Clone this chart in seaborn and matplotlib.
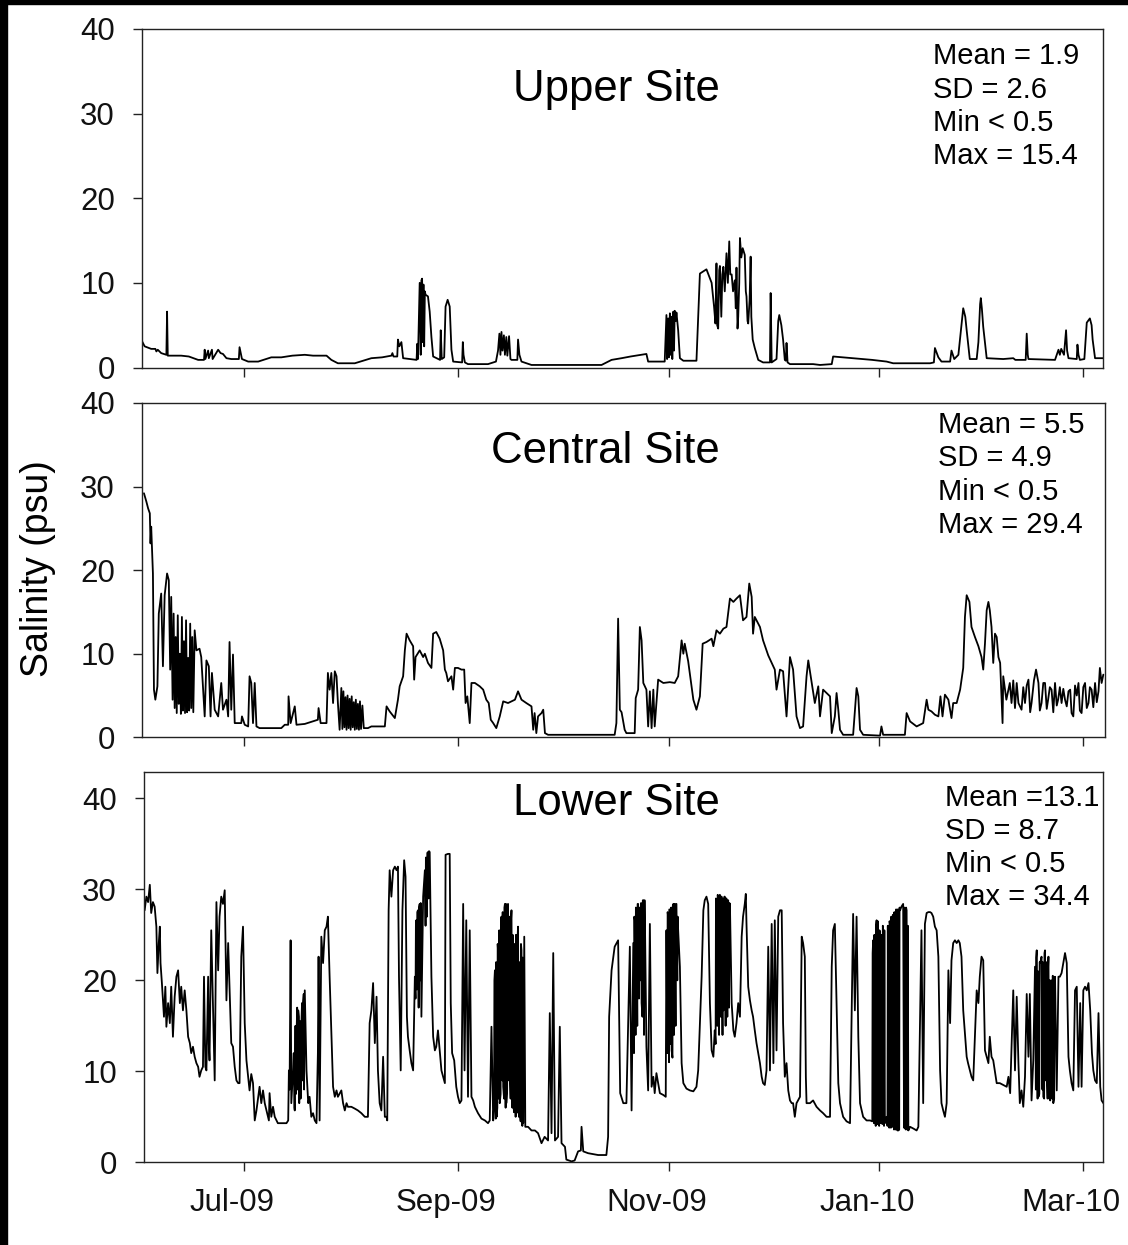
import pandas as pd
import seaborn as sns
import matplotlib.pyplot as plt
from matplotlib.patches import Rectangle
from matplotlib.transforms import ScaledTranslation

# ---- data (days since 1 Jun 2009, salinity in psu) ----
upper_day = [
    0.2, 1.2, 3.1, 4.3, 4.6, 5.0, 6.0, 7.5, 7.7, 7.9, 11.8, 14.0, 16.7, 18.4, 18.6, 18.8,
    19.6, 19.8, 20.7, 20.9, 22.5, 23.2, 23.9, 24.9, 26.3, 28.5, 28.7, 29.4, 31.2, 34.1,
    37.9, 40.8, 44.0, 47.6, 50.0, 53.9, 55.3, 57.2, 62.1, 66.9, 70.0, 72.7, 73.0, 73.3,
    74.4, 74.6, 75.0, 75.6, 76.1, 80.0, 80.2, 80.4, 80.9, 81.2, 81.4, 81.6, 81.8, 82.0,
    82.2, 82.4, 82.6, 83.3, 83.8, 84.3, 84.8, 86.8, 87.0, 87.3, 88.0, 88.4, 89.0, 89.6,
    90.1, 90.6, 93.2, 93.4, 93.6, 94.0, 94.9, 100.7, 103.0, 103.6, 104.0, 104.3, 104.6,
    104.9, 105.3, 105.6, 106.0, 106.3, 106.8, 107.2, 107.5, 109.2, 109.4, 109.8, 110.4,
    113.3, 133.6, 136.5, 139.4, 142.0, 146.6, 147.1, 151.9, 152.4, 152.6, 152.9, 153.1,
    153.4, 153.6, 153.9, 154.1, 154.4, 154.6, 154.8, 155.1, 155.3, 155.8, 156.3, 157.3,
    161.1, 162.1, 164.0, 165.5, 166.2, 166.6, 166.9, 167.1, 167.4, 167.7, 167.9, 168.3,
    168.6, 168.9, 169.3, 169.8, 170.2, 170.6, 170.9, 171.3, 171.7, 172.2, 172.5, 172.7,
    173.0, 173.2, 173.5, 173.7, 174.1, 174.5, 175.1, 175.4, 175.6, 175.9, 176.1, 176.5,
    176.8, 177.0, 177.4, 178.0, 179.0, 180.4, 181.9, 182.4, 182.6, 182.9, 184.3, 184.8,
    185.1, 185.7, 186.2, 186.7, 187.0, 187.2, 187.5, 188.2, 194.9, 196.9, 200.3, 200.7,
    206.5, 212.0, 216.2, 218.1, 228.8, 229.9, 230.2, 231.2, 232.1, 234.6, 235.0, 235.8,
    237.0, 238.0, 238.4, 239.0, 239.4, 240.3, 242.3, 242.8, 243.3, 243.5, 243.8, 244.2,
    245.2, 250.0, 252.9, 253.5, 256.5, 256.8, 257.1, 257.3, 265.0, 266.0, 266.4, 266.8,
    267.6, 268.2, 268.5, 268.9, 271.3, 271.5, 271.8, 272.2, 273.5, 274.2, 275.1, 275.6,
    275.9, 276.6, 278.9,
]
upper_sal = [
    3.3, 2.5, 2.2, 2.2, 1.9, 2.1, 1.7, 1.5, 6.6, 1.4, 1.4, 1.3, 0.9, 0.9, 2.1, 1.0,
    2.0, 1.1, 2.1, 1.0, 2.1, 1.7, 1.6, 1.1, 1.0, 1.0, 2.4, 1.0, 0.7, 0.7,
    1.2, 1.2, 1.4, 1.5, 1.4, 1.4, 0.9, 0.5, 0.5, 1.1, 1.2, 1.4, 1.7, 1.3,
    1.3, 3.3, 2.5, 3.0, 1.1, 0.9, 2.8, 1.0, 10.0, 1.5, 10.3, 10.5, 3.0, 9.8,
    2.5, 9.0, 8.6, 8.4, 6.6, 3.6, 1.3, 0.9, 4.4, 1.0, 1.2, 7.2, 8.0, 7.2,
    2.1, 0.7, 0.6, 3.0, 1.5, 0.6, 0.4, 0.4, 0.7, 2.0, 4.0, 1.5, 4.2,
    2.0, 3.8, 1.5, 3.6, 1.4, 3.7, 1.0, 0.9, 0.9, 3.3, 1.5, 0.7,
    0.3, 0.3, 0.9, 1.1, 1.3, 1.6, 0.7, 0.7, 6.2, 1.0, 5.8, 1.2,
    6.4, 1.5, 6.0, 1.0, 6.6, 2.0, 6.7, 5.5, 6.5, 4.4, 1.1, 0.8,
    0.8, 11.1, 11.6, 10.0, 7.2, 5.2, 12.3, 5.0, 4.6, 11.5, 12.0, 6.0,
    11.0, 11.9, 9.0, 13.5, 10.0, 14.9, 11.0, 11.0, 9.0, 10.3, 7.0, 11.8,
    4.6, 6.0, 10.0, 15.3, 13.0, 14.1, 13.3, 9.0, 8.4, 5.5, 5.2, 8.0,
    13.1, 6.0, 3.3, 2.3, 0.9, 0.6, 0.6, 0.6, 8.8, 0.6, 1.0, 5.5,
    6.2, 5.0, 3.3, 0.9, 0.8, 2.9, 0.6, 0.4, 0.4, 0.3, 0.4, 1.3,
    1.1, 0.9, 0.7, 0.5, 0.5, 0.6, 2.3, 1.2, 0.7, 0.7, 2.0, 1.0,
    1.5, 5.5, 7.0, 6.0, 4.4, 1.0, 1.0, 3.0, 7.5, 8.2, 7.0, 4.8,
    1.1, 1.0, 1.1, 0.9, 0.9, 4.0, 1.5, 1.0, 0.9, 2.1, 1.5, 2.2,
    1.5, 4.4, 2.0, 1.1, 1.0, 2.7, 1.5, 0.9, 1.0, 5.3, 5.8, 5.0,
    3.3, 1.1, 1.1,
]

central_day = [
    1.0, 1.7, 2.2, 2.7, 2.9, 3.1, 3.6, 3.9, 4.3, 4.9, 5.3, 6.0, 6.5, 7.0, 7.7, 8.2,
    8.6, 8.9, 9.3, 9.6, 9.9, 10.2, 10.5, 10.8, 11.1, 11.4, 11.7, 12.0, 12.3, 12.6,
    12.9, 13.2, 13.5, 13.8, 14.1, 14.4, 14.7, 15.0, 15.3, 15.7, 16.2, 17.1, 17.6,
    18.6, 19.1, 19.8, 20.3, 20.7, 21.5, 22.5, 23.4, 23.9, 24.9, 25.4, 25.8, 26.3,
    26.8, 27.3, 29.2, 29.4, 30.2, 31.2, 31.6, 32.1, 32.6, 33.1, 33.6, 34.5, 40.8,
    41.8, 42.8, 42.9, 43.5, 44.7, 45.2, 47.6, 51.4, 51.6, 52.2, 53.9, 54.3, 54.8,
    55.3, 55.8, 56.3, 56.8, 57.2, 57.7, 58.2, 58.5, 58.8, 59.1, 59.4, 59.7, 60.0,
    60.3, 60.6, 60.9, 61.2, 61.5, 61.8, 62.1, 62.4, 62.7, 63.0, 63.3, 63.6, 63.9,
    64.3, 64.7, 65.9, 66.9, 70.8, 71.3, 72.2, 73.7, 74.6, 75.1, 76.1, 76.6, 77.1,
    78.0, 79.0, 79.3, 79.7, 80.9, 81.9, 82.4, 83.3, 84.3, 84.8, 85.7, 86.7, 87.7,
    88.2, 88.6, 89.1, 90.1, 90.6, 91.1, 92.0, 93.0, 93.8, 94.2, 94.7, 95.4, 95.9,
    96.9, 98.3, 99.3, 100.2, 100.9, 101.5, 102.2, 103.1, 104.1, 105.1, 106.5, 108.5,
    109.4, 110.4, 111.8, 113.3, 113.8, 114.2, 114.7, 115.2, 116.2, 116.7, 117.2,
    118.1, 137.4, 137.9, 138.4, 138.9, 139.4, 140.3, 140.8, 143.2, 143.5, 144.2,
    144.7, 145.2, 145.7, 146.6, 147.1, 147.6, 148.1, 148.6, 149.0, 150.0, 151.5,
    153.4, 154.8, 155.8, 156.8, 157.3, 157.7, 158.7, 160.2, 161.1, 162.1, 162.9,
    164.0, 165.5, 166.0, 166.9, 167.9, 168.9, 169.8, 170.8, 171.8, 172.7, 173.7,
    174.6, 175.6, 176.4, 177.1, 177.5, 178.0, 179.5, 180.4, 181.9, 182.9, 183.8,
    184.3, 185.3, 186.2, 187.2, 188.2, 189.1, 190.1, 191.1, 192.0, 193.0, 193.5,
    194.5, 195.4, 196.4, 196.9, 197.8, 198.8, 199.8, 200.3, 201.2, 201.7, 202.2,
    202.7, 203.6, 206.5, 207.5, 208.0, 208.5, 209.4, 214.3, 214.7, 215.2, 221.5,
    222.0, 223.0, 224.9, 226.8, 227.8, 228.3, 229.2, 230.2, 231.2, 231.8, 232.4,
    233.1, 234.1, 235.0, 235.5, 236.5, 237.5, 238.4, 238.9, 239.4, 240.2, 240.8,
    241.8, 242.8, 243.7, 244.2, 244.7, 245.2, 245.7, 246.1, 246.6, 247.1, 247.6,
    248.1, 248.6, 249.1, 249.8, 250.0, 250.9, 251.9, 252.4, 252.9, 253.4, 253.9,
    254.4, 255.3, 255.8, 256.3, 256.8, 257.3, 257.8, 258.2, 258.9, 259.5, 260.2,
    260.6, 261.1, 261.6, 262.1, 262.6, 263.0, 263.5, 264.0, 264.5, 265.0, 265.5,
    265.9, 266.4, 266.9, 267.4, 267.9, 268.4, 268.9, 269.4, 269.8, 270.3, 270.8,
    271.3, 271.8, 272.2, 272.7, 273.2, 273.7, 274.2, 274.7, 275.1, 275.6, 276.1,
    276.6, 277.1, 277.6, 278.0, 278.5, 279.0,
]
central_sal = [
    29.2, 28.2, 27.4, 26.8, 23.2, 25.2, 19.6, 5.7, 4.5, 6.1, 14.8, 17.2, 8.5, 17.0, 19.6, 18.8,
    8.1, 16.8, 4.5, 14.8, 3.5, 12.0, 2.9, 14.6, 4.0, 10.0, 2.8, 14.4, 3.2, 11.5,
    2.9, 14.0, 3.0, 9.5, 3.2, 13.6, 3.5, 12.0, 3.0, 12.8, 10.4, 10.6, 9.6,
    2.5, 9.2, 8.5, 2.5, 7.7, 3.3, 2.5, 6.5, 3.3, 4.5, 2.5, 11.4, 3.3,
    9.9, 1.7, 1.7, 2.5, 1.5, 1.3, 7.3, 6.5, 1.7, 6.5, 1.3, 1.1, 1.1,
    1.5, 1.5, 4.9, 1.7, 3.7, 1.5, 1.6, 2.1, 3.5, 1.7, 1.7, 7.7, 5.7,
    7.7, 4.1, 7.9, 7.3, 4.1, 0.9, 5.9, 1.0, 5.5, 1.2, 4.8, 0.9, 5.0,
    1.1, 4.6, 0.9, 4.9, 1.2, 4.2, 0.9, 4.5, 1.0, 4.0, 0.9, 4.3, 1.0,
    3.8, 1.1, 1.1, 1.3, 1.3, 3.7, 3.1, 2.3, 4.5, 6.1, 7.3, 10.4, 12.4,
    11.6, 10.9, 6.9, 9.6, 10.4, 9.6, 10.0, 8.9, 8.3, 12.4, 12.6, 11.8, 10.4,
    8.1, 7.7, 6.7, 7.3, 5.7, 8.3, 8.3, 8.1, 8.1, 4.1, 4.9, 1.7, 6.5,
    6.5, 6.1, 5.7, 4.5, 4.1, 2.1, 1.7, 1.1, 2.5, 4.3, 4.1, 4.5,
    5.5, 4.5, 4.1, 3.7, 0.9, 2.9, 0.5, 2.5, 2.9, 3.3, 0.5,
    0.3, 0.3, 1.7, 14.2, 3.3, 3.0, 0.9, 0.5, 0.5, 4.7, 5.7,
    13.2, 11.6, 6.5, 5.7, 1.3, 5.5, 1.1, 5.7, 1.3, 6.9, 6.5,
    6.6, 6.5, 7.3, 11.6, 10.0, 11.2, 9.1, 4.5, 3.3, 4.9, 11.2,
    11.4, 11.8, 10.9, 12.8, 12.4, 13.0, 13.2, 16.6, 16.2, 16.6, 17.0,
    14.0, 14.4, 18.4, 16.8, 12.4, 14.4, 13.2, 11.6, 9.8, 8.9, 8.1,
    5.7, 8.1, 7.9, 2.5, 9.6, 8.1, 2.5, 1.1, 1.3, 7.3, 9.2,
    6.5, 4.1, 6.1, 2.5, 5.7, 5.3, 4.9, 0.5, 2.5, 5.3, 3.3,
    0.9, 0.3, 0.3, 5.9, 4.9, 0.9, 0.3, 0.2, 1.3, 0.3, 0.3,
    2.9, 1.9, 1.3, 1.7, 4.5, 3.3, 3.1, 2.7, 2.5, 4.9, 2.5,
    5.1, 4.5, 2.3, 4.1, 4.1, 5.7, 8.3, 14.4, 17.0, 16.2, 13.2,
    12.0, 10.9, 9.6, 8.1, 11.2, 15.2, 16.2, 15.2, 13.2, 8.9, 12.4,
    12.0, 9.6, 8.9, 1.7, 7.3, 4.5, 6.5, 4.1, 6.8, 3.5, 6.5,
    4.1, 3.3, 6.0, 4.1, 6.2, 6.9, 3.0, 4.1, 6.8, 8.1, 6.5,
    3.2, 4.1, 6.5, 6.5, 3.4, 4.5, 6.0, 5.7, 3.0, 6.5, 3.8,
    4.5, 6.0, 4.1, 5.8, 4.5, 3.7, 5.5, 5.7, 2.9, 2.5, 6.2,
    5.0, 6.5, 3.2, 2.9, 6.0, 6.5, 3.5, 4.1, 6.0, 5.7, 3.6,
    6.5, 4.2, 5.5, 8.3, 6.5, 7.5,
]

lower_day = [
    1.2, 1.7, 2.2, 2.7, 3.1, 3.6, 4.1, 4.6, 4.9, 5.3, 5.6, 5.8, 6.2, 6.8, 7.2, 7.5,
    8.0, 8.5, 8.9, 9.4, 9.9, 10.4, 10.9, 11.4, 11.8, 12.3, 12.8, 13.3, 13.8, 14.3,
    14.7, 15.2, 15.7, 16.2, 16.7, 17.1, 17.6, 18.1, 18.4, 18.8, 19.1, 19.6, 19.8,
    20.0, 20.5, 21.0, 21.5, 22.0, 22.5, 22.9, 23.4, 23.9, 24.4, 24.9, 25.4, 25.8,
    26.3, 26.8, 27.3, 27.8, 28.3, 28.7, 29.2, 29.7, 30.2, 30.7, 31.2, 31.6, 32.1,
    32.6, 33.1, 33.6, 34.5, 35.0, 35.5, 36.0, 36.5, 37.2, 37.4, 37.9, 38.4, 38.9,
    39.8, 42.3, 42.8, 43.0, 43.2, 43.5, 43.7, 44.2, 44.7, 45.2, 45.7, 46.1, 46.6,
    47.1, 47.6, 48.1, 48.6, 49.0, 49.5, 50.0, 50.5, 51.0, 51.4, 51.6, 51.9, 52.4,
    52.9, 53.4, 53.9, 54.3, 54.8, 55.3, 55.8, 56.3, 56.8, 57.2, 58.2, 58.7, 59.2,
    59.7, 60.1, 61.1, 62.1, 63.0, 64.0, 65.0, 65.9, 66.4, 66.9, 67.4, 67.9, 68.4,
    68.8, 69.3, 69.8, 70.3, 70.8, 71.3, 71.5, 71.9, 72.2, 72.7, 73.2, 73.7, 74.2,
    74.6, 74.9, 75.4, 75.9, 76.4, 76.8, 77.2, 77.5, 78.0, 78.5, 79.0, 79.5, 79.9,
    80.4, 80.9, 81.4, 81.9, 82.4, 82.8, 83.3, 83.8, 84.3, 84.8, 85.3, 85.7, 86.2,
    86.7, 87.2, 87.7, 88.2, 88.4, 89.1, 89.6, 89.9, 90.3, 90.9, 91.5, 92.0, 92.5,
    93.0, 93.5, 93.9, 94.4, 94.9, 95.4, 95.9, 96.4, 96.9, 97.8, 98.8, 99.8, 100.7,
    101.2, 101.7, 102.2, 102.7, 103.2, 103.6, 104.1, 104.6, 105.1, 105.6, 106.0,
    106.5, 107.0, 107.5, 108.0, 108.5, 108.9, 109.4, 109.9, 110.4, 110.9, 111.2,
    111.5, 112.3, 113.3, 114.3, 115.2, 116.2, 117.1, 118.1, 118.6, 119.1, 119.6,
    120.1, 121.0, 121.5, 122.0, 123.0, 123.4, 124.9, 125.8, 126.8, 127.6, 127.8,
    128.3, 129.7, 132.6, 135.0, 135.5, 135.8, 136.5, 137.4, 138.4, 139.0, 139.9,
    140.8, 141.8, 142.3, 142.8, 143.2, 143.7, 144.2, 144.7, 145.2, 145.7, 146.1,
    146.6, 147.1, 147.6, 148.1, 148.6, 149.0, 149.5, 150.5, 151.5, 152.2, 152.4,
    152.9, 153.4, 153.9, 154.4, 154.8, 155.3, 155.8, 156.3, 156.8, 157.3, 158.2,
    159.2, 160.2, 161.1, 161.6, 162.1, 162.6, 163.1, 163.5, 164.0, 164.5, 165.0,
    165.5, 166.0, 166.4, 166.9, 167.4, 167.9, 168.4, 168.9, 169.3, 169.8, 170.3,
    170.8, 171.3, 171.8, 172.2, 172.7, 173.2, 173.7, 174.2, 174.6, 175.1, 175.4,
    175.6, 176.1, 176.6, 177.1, 177.5, 178.0, 178.5, 179.0, 179.5, 180.0, 180.4,
    180.9, 181.4, 181.9, 182.4, 182.9, 183.4, 183.8, 184.3, 184.8, 185.3, 185.8,
    186.2, 186.7, 187.2, 187.7, 188.2, 188.7, 189.1, 189.6, 190.1, 191.1, 191.6,
    192.0, 192.5, 192.8, 193.0, 194.0, 194.9, 195.9, 196.9, 197.8, 198.8, 199.8,
    200.3, 200.7, 201.2, 201.7, 202.2, 202.7, 203.6, 204.6, 205.6, 206.5, 207.0,
    207.5, 208.0, 208.5, 209.4, 210.4, 211.4, 212.3, 212.8, 213.3, 213.8, 214.3,
    214.8, 215.2, 215.7, 216.2, 216.7, 217.2, 217.7, 218.1, 218.6, 219.1, 219.6,
    220.1, 220.5, 221.0, 221.5, 222.0, 222.5, 223.0, 224.0, 224.9, 225.4, 225.9,
    226.3, 226.8, 227.3, 227.8, 228.3, 228.8, 229.2, 229.7, 230.2, 230.7, 231.2,
    231.7, 232.1, 232.6, 233.1, 233.6, 234.1, 234.6, 235.0, 235.5, 236.0, 236.5,
    237.0, 237.4, 237.9, 238.4, 239.4, 239.8, 240.8, 241.3, 241.8, 242.3, 242.8,
    243.2, 243.7, 244.2, 244.7, 245.2, 245.7, 246.1, 246.6, 247.1, 248.1, 249.0,
    250.0, 251.0, 251.5, 252.0, 252.9, 253.4, 253.9, 254.4, 254.8, 255.3, 255.8,
    256.3, 256.8, 257.3, 257.7, 258.2, 258.7, 259.2, 259.7, 260.2, 260.7, 261.1,
    261.6, 262.1, 262.6, 263.1, 263.6, 264.0, 264.5, 265.0, 265.5, 266.0, 266.4,
    266.9, 267.4, 267.9, 268.4, 268.9, 269.3, 269.8, 270.3, 270.8, 271.3, 271.8,
    272.3, 272.7, 273.2, 273.7, 274.2, 274.7, 275.2, 275.7, 276.1, 276.6, 277.1,
    277.6, 278.1, 278.5, 279.0,
]
lower_sal = [
    27.7, 29.2, 28.6, 30.5, 27.4, 28.6, 28.1, 25.9, 20.8, 24.1, 25.9, 21.9, 19.7, 16.0, 19.3, 14.9,
    17.5, 15.3, 19.3, 13.8, 18.2, 20.4, 21.1, 17.5, 19.3, 16.7, 18.9, 16.7, 13.8, 13.1,
    12.0, 12.7, 11.6, 10.9, 10.5, 9.4, 10.1, 10.5, 20.4, 10.5, 10.1, 20.4, 13.0,
    11.2, 25.5, 17.5, 9.0, 28.6, 21.1, 27.0, 29.2, 28.4, 29.9, 17.8, 24.1, 19.3,
    13.1, 12.7, 10.5, 9.0, 8.7, 8.7, 22.6, 25.9, 15.3, 11.2, 9.4, 7.9, 9.7,
    8.7, 4.6, 5.7, 8.3, 6.5, 7.9, 6.5, 5.7, 4.6, 7.6, 5.0, 6.1, 5.0,
    4.3, 4.3, 4.6, 10.1, 8.0, 24.4, 6.5, 10.1, 5.7, 13.8, 16.7, 14.5, 14.9,
    17.5, 18.9, 10.1, 6.5, 7.2, 5.0, 5.4, 4.6, 4.3, 12.0, 22.6, 4.6, 24.8,
    21.9, 25.5, 25.9, 27.0, 20.4, 14.5, 8.3, 7.2, 7.9, 7.2, 7.9, 6.5, 5.7,
    6.5, 6.1, 6.1, 5.9, 5.7, 5.4, 5.0, 5.0, 15.3, 16.7, 19.7, 13.1, 18.2,
    10.1, 6.5, 5.7, 11.6, 5.0, 5.0, 4.6, 27.7, 32.1, 29.2, 32.1, 32.5, 32.1,
    32.5, 20.4, 10.1, 27.7, 33.2, 31.4, 16.0, 13.8, 12.3, 10.9, 10.1, 20.4, 26.6,
    27.7, 28.4, 16.0, 29.2, 32.1, 32.5, 34.1, 34.1, 20.4, 13.8, 12.3, 12.7, 14.5,
    12.3, 10.1, 9.4, 8.7, 33.8, 33.9, 33.9, 17.5, 12.0, 11.2, 8.3, 7.2, 6.5,
    6.8, 28.4, 10.1, 26.6, 7.2, 25.5, 7.2, 6.8, 6.1, 5.4, 4.8, 4.6, 4.3,
    4.6, 14.9, 4.6, 21.1, 5.0, 23.3, 6.5, 27.0, 8.3, 28.4, 6.5,
    28.4, 10.1, 27.7, 6.5, 23.3, 5.4, 25.9, 5.7, 23.3, 4.3, 24.8,
    3.9, 3.9, 3.5, 3.5, 3.2, 2.1, 2.8, 2.4, 16.4, 3.2, 23.0,
    2.4, 2.8, 14.9, 2.1, 1.7, 0.3, 0.1, 0.2, 1.2, 1.3, 3.9,
    1.2, 1.0, 0.8, 0.8, 2.8, 16.0, 21.1, 23.7, 24.4, 7.6, 6.5,
    6.5, 23.7, 5.7, 24.1, 26.6, 27.4, 28.4, 27.7, 17.5, 28.8, 28.8,
    12.7, 7.9, 26.2, 8.3, 9.4, 7.6, 9.8, 7.6, 7.4, 7.2, 25.5,
    27.0, 27.7, 12.3, 28.4, 28.1, 28.4, 25.5, 21.5, 10.9, 8.7, 8.1,
    7.9, 7.8, 8.3, 10.1, 15.3, 20.4, 27.7, 28.8, 29.2, 28.4, 17.5,
    12.3, 11.6, 14.5, 28.8, 29.2, 29.4, 29.2, 16.7, 29.2, 29.0, 28.8,
    28.4, 17.5, 14.5, 13.8, 15.3, 17.5, 16.0, 24.8, 27.0, 28.4, 29.5,
    26.2, 19.3, 17.8, 16.7, 16.0, 14.5, 13.1, 12.0, 10.9, 9.4, 8.7,
    8.5, 10.1, 23.7, 10.1, 26.2, 10.9, 26.6, 12.3, 27.0, 27.7, 27.7,
    15.3, 9.4, 10.9, 7.9, 6.8, 6.5, 6.5, 5.0, 6.5, 7.2, 24.8,
    24.1, 22.6, 9.4, 6.5, 6.5, 6.8, 6.1, 5.7, 5.4, 5.0, 5.0,
    21.5, 25.5, 26.2, 17.5, 8.7, 6.5, 5.0, 4.5, 4.3, 27.3, 16.7,
    27.0, 13.8, 6.5, 5.0, 4.6, 4.6, 24.4, 5.0, 26.6, 5.0, 25.2,
    4.3, 25.5, 4.3, 5.0, 4.3, 26.2, 3.9, 27.0, 4.3, 27.7, 3.5,
    27.7, 28.1, 28.4, 3.9, 27.7, 3.5, 3.9, 3.7, 3.5, 3.9, 15.6,
    25.5, 6.5, 26.2, 27.4, 27.5, 27.5, 27.4, 27.0, 25.9, 25.5, 22.6,
    10.1, 6.5, 5.7, 5.0, 6.5, 21.1, 15.3, 22.2, 24.1, 24.4, 24.1,
    24.4, 24.1, 22.6, 16.7, 11.6, 10.9, 9.4, 9.0, 14.0, 18.9, 17.5,
    20.4, 22.6, 22.2, 12.3, 11.6, 10.9, 13.8, 11.6, 11.2, 8.7, 8.7,
    8.5, 8.3, 9.4, 7.6, 18.9, 10.1, 18.2, 10.9, 6.5, 7.9, 6.1,
    9.4, 18.5, 11.6, 18.5, 6.8, 11.2, 21.5, 23.3, 7.2, 21.9, 22.6,
    7.2, 23.3, 10.1, 22.6, 6.8, 19.7, 6.5, 20.4, 7.9, 20.4, 20.4,
    20.8, 21.9, 23.0, 21.9, 11.6, 10.1, 8.7, 7.9, 18.9, 19.3, 8.3,
    17.5, 8.3, 18.9, 19.3, 18.9, 19.7, 16.7, 12.0, 10.1, 9.0, 8.7,
    16.4, 8.3, 6.8, 6.5,
]

# extra tidal swings read in the densest (solid black) stretches of the lower record
lower_swing_day = [
    44.4, 44.6, 44.9, 45.0, 45.4, 45.5, 45.9, 46.0, 46.3, 46.4, 46.8, 46.9, 47.3, 47.4,
    79.7, 79.8, 80.1, 80.2, 80.6, 80.7, 81.1, 81.2, 82.6, 82.7, 83.0, 83.1, 83.5, 83.6,
    102.45, 102.55, 102.95, 103.05, 103.4, 103.5, 103.85, 103.95, 104.35, 104.45,
    104.85, 104.95, 105.35, 105.45, 105.8, 105.9, 106.25, 106.35, 106.75, 106.85,
    107.25, 107.35, 107.75, 107.85, 108.25, 108.35, 108.7, 108.8, 109.15, 109.25,
    109.65, 109.75, 110.15, 110.25, 110.65, 110.75,
    143.0, 143.1, 143.45, 143.55, 143.95, 144.05, 144.45, 144.55, 144.95, 145.05,
    145.45, 145.55, 145.9, 146.0,
    152.65, 152.75, 153.15, 153.25, 153.65, 153.75, 154.15, 154.25, 154.6, 154.7,
    155.05, 155.15, 155.55, 155.65,
    166.65, 166.75, 167.15, 167.25, 167.65, 167.75, 168.15, 168.25, 168.65, 168.75,
    169.1, 169.2, 169.55, 169.65, 170.05, 170.15, 170.55, 170.65,
    212.05, 212.15, 212.55, 212.65, 213.05, 213.15, 213.55, 213.65, 214.05, 214.15,
    214.55, 214.65, 215.0, 215.1, 215.45, 215.55, 216.45, 216.55, 216.95, 217.05,
    217.45, 217.55, 217.9, 218.0, 218.35, 218.45, 218.85, 218.95, 219.35, 219.45,
    219.85, 219.95, 221.25, 221.35, 221.75, 221.85, 222.25, 222.35,
    259.45, 259.55, 259.95, 260.05, 260.45, 260.55, 261.35, 261.45, 261.85, 261.95,
    262.35, 262.45, 262.85, 262.95, 263.35, 263.45, 263.8, 263.9, 264.25, 264.35,
    264.75, 264.85,
]
lower_swing_sal = [
    12.0, 6.0, 15.0, 7.5, 17.0, 8.0, 16.0, 6.5, 15.5, 7.0, 17.5, 9.0, 18.5, 8.0,
    18.0, 26.0, 19.0, 27.5, 17.0, 28.0, 20.0, 28.5, 26.0, 33.5, 27.0, 34.0, 29.0, 34.2,
    6.0, 20.0, 4.8, 22.0, 6.0, 24.0, 7.0, 25.5, 7.5, 26.5,
    9.0, 27.5, 7.0, 28.0, 6.0, 28.4, 8.0, 27.5, 9.0, 27.0,
    7.0, 26.5, 6.0, 25.0, 5.5, 24.0, 5.0, 25.0, 5.5, 24.5,
    5.0, 22.0, 4.5, 24.0, 4.0, 22.5,
    12.0, 27.0, 14.0, 28.0, 15.0, 28.4, 18.0, 28.0, 20.0, 28.5,
    16.0, 28.8, 14.0, 28.8,
    12.0, 27.5, 11.0, 27.8, 13.0, 28.0, 11.5, 28.2, 14.0, 28.4,
    15.0, 28.4, 20.0, 27.0,
    13.0, 29.0, 15.0, 29.4, 14.0, 29.3, 16.0, 29.2, 14.0, 29.0,
    17.0, 29.2, 15.0, 29.0, 16.0, 28.8, 17.0, 28.5,
    4.5, 23.0, 4.3, 25.0, 4.0, 26.0, 4.2, 26.5, 4.0, 25.5,
    4.3, 25.0, 4.2, 26.0, 4.0, 25.5, 4.0, 26.0, 3.8, 26.5,
    3.8, 27.0, 3.9, 27.2, 3.6, 27.5, 3.6, 27.8, 3.5, 27.8,
    3.6, 28.0, 3.8, 28.0, 3.6, 28.0, 3.6, 26.0,
    8.0, 22.5, 7.0, 21.0, 7.5, 22.0, 8.0, 22.0, 7.0, 23.0,
    9.0, 22.0, 7.0, 21.0, 7.0, 20.0, 7.5, 20.0, 7.0, 20.5,
    7.0, 20.0,
]

site_titles = ["Upper Site", "Central Site", "Lower Site"]
site_stats = [
    ["Mean = 1.9", "SD = 2.6", "Min < 0.5", "Max = 15.4"],
    ["Mean = 5.5", "SD = 4.9", "Min < 0.5", "Max = 29.4"],
    ["Mean =13.1", "SD = 8.7", "Min < 0.5", "Max = 34.4"],
]
tick_dates = ["2009-07-01", "2009-09-01", "2009-11-01", "2010-01-01", "2010-03-01"]
tick_labels = ["Jul-09", "Sep-09", "Nov-09", "Jan-10", "Mar-10"]
y_ticks = [0, 10, 20, 30, 40]

start = pd.Timestamp("2009-06-01")

sns.set_theme(style="ticks")
plt.rcParams["font.family"] = ["Liberation Sans", "DejaVu Sans"]

W, H = 1128, 1245
fig = plt.figure(figsize=(W / 100, H / 100), dpi=100)
fig.patch.set_facecolor("white")


def px_box(left, top, right, bottom):
    return [left / W, 1 - bottom / H, (right - left) / W, (bottom - top) / H]


def px_day(x):
    # pixel column -> days since 1 Jun 2009 (Jul-09 tick at 244, Jan-10 at 879)
    return (x - 140.5) / 3.451


def site_frame(days, sal):
    df = pd.DataFrame({"day": days, "salinity": sal}).sort_values("day", kind="stable")
    df["date"] = start + pd.to_timedelta(df["day"], unit="D")
    return df


lower_df = site_frame(lower_day + lower_swing_day, lower_sal + lower_swing_sal)

# axes frames in pixels: left, top, right, bottom ; plus y max
panels = [
    dict(box=(142, 29, 1103, 367.5), ymax=40, df=site_frame(upper_day, upper_sal),
         title_xy=(616, 101), stats_xy=(933, 64), step=33.5),
    dict(box=(142, 403, 1105, 737.3), ymax=40, df=site_frame(central_day, central_sal),
         title_xy=(605, 463), stats_xy=(938, 433), step=33.4),
    dict(box=(144, 772, 1103, 1162.3), ymax=42.9, df=lower_df,
         title_xy=(616, 815), stats_xy=(945, 806), step=33.0),
]

for i, p in enumerate(panels):
    ax = fig.add_axes(px_box(*p["box"]))
    sns.lineplot(data=p["df"], x="date", y="salinity", ax=ax, color="black",
                 linewidth=1.3, estimator=None, sort=False)
    left, top, right, bottom = p["box"]
    ax.set_xlim(start + pd.Timedelta(days=px_day(left)),
                start + pd.Timedelta(days=px_day(right)))
    ax.set_ylim(0, p["ymax"])
    ax.set_yticks(y_ticks)
    ax.set_xticks(pd.to_datetime(tick_dates))
    ax.set_xticklabels(tick_labels)
    ax.set_xlabel("")
    ax.set_ylabel("")
    for s in ax.spines.values():
        s.set_visible(True)
        s.set_color("#222222")
        s.set_linewidth(1.0)
    ax.tick_params(axis="both", direction="out", length=6.5, width=1.0,
                   color="#222222", labelsize=22.5, labelcolor="#111111")
    ax.tick_params(axis="y", pad=13)
    ax.tick_params(axis="x", pad=12, labelbottom=(i == 2))
    if i == 2:
        # date labels sit a little left of their ticks in the original
        shift = ScaledTranslation(-12 / 100, 0, fig.dpi_scale_trans)
        for lab in ax.get_xticklabels():
            lab.set_transform(lab.get_transform() + shift)

    tx, ty = p["title_xy"]
    fig.text(tx / W, 1 - ty / H, site_titles[i], ha="center", va="baseline",
             fontsize=31.5, color="black")
    sx, sy = p["stats_xy"]
    for k, line in enumerate(site_stats[i]):
        fig.text(sx / W, 1 - (sy + k * p["step"]) / H, line, ha="left",
                 va="baseline", fontsize=21, color="black")

fig.text(38 / W, 1 - 569 / H, "Salinity (psu)", rotation=90, ha="center",
         va="center", fontsize=27, color="black")

# black border strips along the top and left edges of the original image
fig.patches.append(Rectangle((0, 1 - 4 / H), 1, 4 / H, transform=fig.transFigure,
                             color="black", zorder=10))
fig.patches.append(Rectangle((0, 0), 7 / W, 1, transform=fig.transFigure,
                             color="black", zorder=10))

fig.savefig("out.png", dpi=100, facecolor="white")
